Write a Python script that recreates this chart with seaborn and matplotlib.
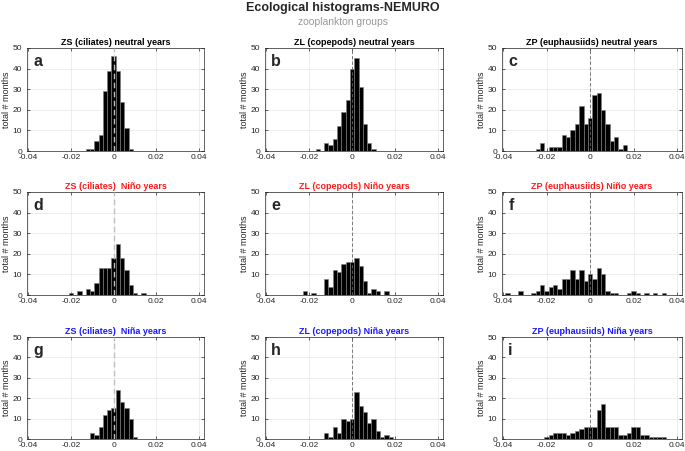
import pandas as pd
import matplotlib
matplotlib.use("Agg")
import matplotlib.pyplot as plt
import seaborn as sns

# ================================
# Data (bin centres and counts)
# ================================

zs_neutral_x = [-0.012, -0.010, -0.008, -0.006, -0.004, -0.002, 0.0, 0.002, 0.004, 0.006, 0.008]
zs_neutral_n = [1, 1, 5, 8, 29, 39, 46, 39, 24, 11, 1]

zl_neutral_x = [-0.016, -0.012, -0.010, -0.008, -0.006, -0.004, -0.002, 0.0, 0.002, 0.004, 0.006, 0.008, 0.010]
zl_neutral_n = [1, 4, 3, 6, 12, 19, 25, 40, 45, 31, 13, 4, 1]

zp_neutral_x = [-0.024, -0.022, -0.018, -0.016, -0.014, -0.012, -0.010, -0.008, -0.006, -0.004,
                -0.002, 0.0, 0.002, 0.004, 0.006, 0.008, 0.010, 0.012, 0.014, 0.016]
zp_neutral_n = [1, 4, 2, 2, 2, 8, 7, 10, 13, 22, 13, 16, 27, 28, 20, 13, 5, 7, 1, 3]

zs_nino_x = [-0.020, -0.016, -0.012, -0.010, -0.008, -0.006, -0.004, -0.002, 0.0, 0.002,
             0.004, 0.006, 0.008, 0.010, 0.014]
zs_nino_n = [1, 2, 3, 2, 6, 13, 13, 13, 18, 25, 18, 12, 5, 1, 1]

zl_nino_x = [-0.022, -0.018, -0.012, -0.010, -0.008, -0.006, -0.004, -0.002, 0.0, 0.002,
             0.004, 0.006, 0.008, 0.010, 0.012, 0.016]
zl_nino_n = [2, 1, 8, 4, 12, 11, 15, 16, 16, 18, 14, 7, 1, 3, 2, 2]

zp_nino_x = [-0.038, -0.032, -0.026, -0.024, -0.022, -0.020, -0.018, -0.016, -0.014, -0.012,
             -0.010, -0.008, -0.006, -0.004, -0.002, 0.0, 0.002, 0.004, 0.006, 0.008,
             0.010, 0.012, 0.018, 0.020, 0.022, 0.026, 0.030, 0.034]
zp_nino_n = [1, 2, 1, 2, 5, 2, 4, 5, 3, 8, 8, 12, 8, 12, 7, 10, 8, 13, 10, 2,
             1, 1, 1, 2, 1, 1, 1, 1]

zs_nina_x = [-0.010, -0.008, -0.006, -0.004, -0.002, 0.0, 0.002, 0.004, 0.006, 0.008, 0.010]
zs_nina_n = [3, 2, 6, 12, 14, 15, 24, 18, 15, 10, 1]

zl_nina_x = [-0.012, -0.010, -0.008, -0.006, -0.004, -0.002, 0.0, 0.002, 0.004, 0.006,
             0.008, 0.010, 0.012, 0.014, 0.016, 0.018]
zl_nina_n = [3, 1, 6, 3, 10, 9, 10, 23, 16, 13, 8, 10, 4, 1, 2, 1]

zp_nina_x = [-0.020, -0.018, -0.016, -0.014, -0.012, -0.010, -0.008, -0.006, -0.004, -0.002,
             0.0, 0.002, 0.004, 0.006, 0.008, 0.010, 0.012, 0.014, 0.016, 0.018,
             0.020, 0.022, 0.024, 0.026, 0.028, 0.030, 0.032, 0.034]
zp_nina_n = [1, 2, 3, 3, 3, 2, 3, 4, 5, 6, 6, 6, 14, 17, 6, 6, 6, 2, 2, 3,
             6, 6, 2, 2, 1, 1, 1, 1]

titles = ["ZS (ciliates) neutral years", "ZL (copepods) neutral years", "ZP (euphausiids) neutral years",
          "ZS (ciliates)  Niño years", "ZL (copepods) Niño years", "ZP (euphausiids) Niño years",
          "ZS (ciliates)  Niña years", "ZL (copepods) Niña years", "ZP (euphausiids) Niña years"]
letters = ["a", "b", "c", "d", "e", "f", "g", "h", "i"]
xticks = [-0.04, -0.02, 0, 0.02, 0.04]
xtick_labels = ["-0.04", "-0.02", "0", "0.02", "0.04"]
yticks = [0, 10, 20, 30, 40, 50]

panels = [(zs_neutral_x, zs_neutral_n), (zl_neutral_x, zl_neutral_n), (zp_neutral_x, zp_neutral_n),
          (zs_nino_x, zs_nino_n), (zl_nino_x, zl_nino_n), (zp_nino_x, zp_nino_n),
          (zs_nina_x, zs_nina_n), (zl_nina_x, zl_nina_n), (zp_nina_x, zp_nina_n)]

# ================================
# Figure
# ================================

sns.set_style("whitegrid")
plt.rcParams['font.family'] = ['Liberation Sans', 'DejaVu Sans']

W, H = 685, 451
fig = plt.figure(figsize=(W / 100, H / 100), dpi=100)

col_px = [(27, 177), (265, 178), (502, 180)]
row_px = [(48, 151), (192, 295), (337, 439)]
row_colors = ["black", "#ff1a1a", "#1a1aff"]

for i, (xs, ns) in enumerate(panels):
    r, c = divmod(i, 3)
    left, width = col_px[c]
    top, bottom = row_px[r]
    ax = fig.add_axes([left / W, 1 - bottom / H, width / W, (bottom - top) / H])

    df = pd.DataFrame({"x": xs, "n": ns})
    sns.histplot(data=df, x="x", weights="n", binwidth=0.002, binrange=(-0.041, 0.041),
                 ax=ax, color="black", edgecolor="0.5", linewidth=0.4, alpha=1, zorder=2)

    # dashed zero line
    if c == 0:
        ax.axvline(0, color="0.75", ls="--", lw=1.0, dashes=(4, 2.5), zorder=3)
    else:
        ax.axvline(0, color="0.4", ls="--", lw=0.6, dashes=(4, 2.5), zorder=3)

    ax.set_xlim(-0.0405, 0.0423)
    ax.set_ylim(0, 50)
    ax.set_xticks(xticks)
    ax.set_xticklabels(xtick_labels)
    ax.set_yticks(yticks)
    ax.tick_params(labelsize=6, length=2, width=0.5, direction="in", colors="0.15")
    ax.tick_params(axis="x", pad=2.5)
    ax.tick_params(axis="y", pad=3.5)
    ax.tick_params(axis="both", which="both", top=True, right=True, bottom=True, left=True)
    ax.grid(True, color="0.9", lw=0.5)
    for s in ax.spines.values():
        s.set_color("0.15")
        s.set_linewidth(0.5)
    ax.set_ylabel("total # months", fontsize=6.5, labelpad=1)
    ax.set_xlabel("")
    ax.set_title(titles[i], fontsize=6.5, fontweight="bold", color=row_colors[r], pad=2)
    ax.text(0.035, 0.87, letters[i], transform=ax.transAxes, fontsize=11.5,
            fontweight="bold", va="center", ha="left", zorder=5)

fig.text(0.5, 1 - 8 / H, "Ecological histograms-NEMURO", ha="center", va="center",
         fontsize=9, fontweight="bold")
fig.text(0.5, 1 - 22 / H, "zooplankton groups", ha="center", va="center",
         fontsize=7.5, color="0.6")

fig.savefig("out.png", dpi=100)
